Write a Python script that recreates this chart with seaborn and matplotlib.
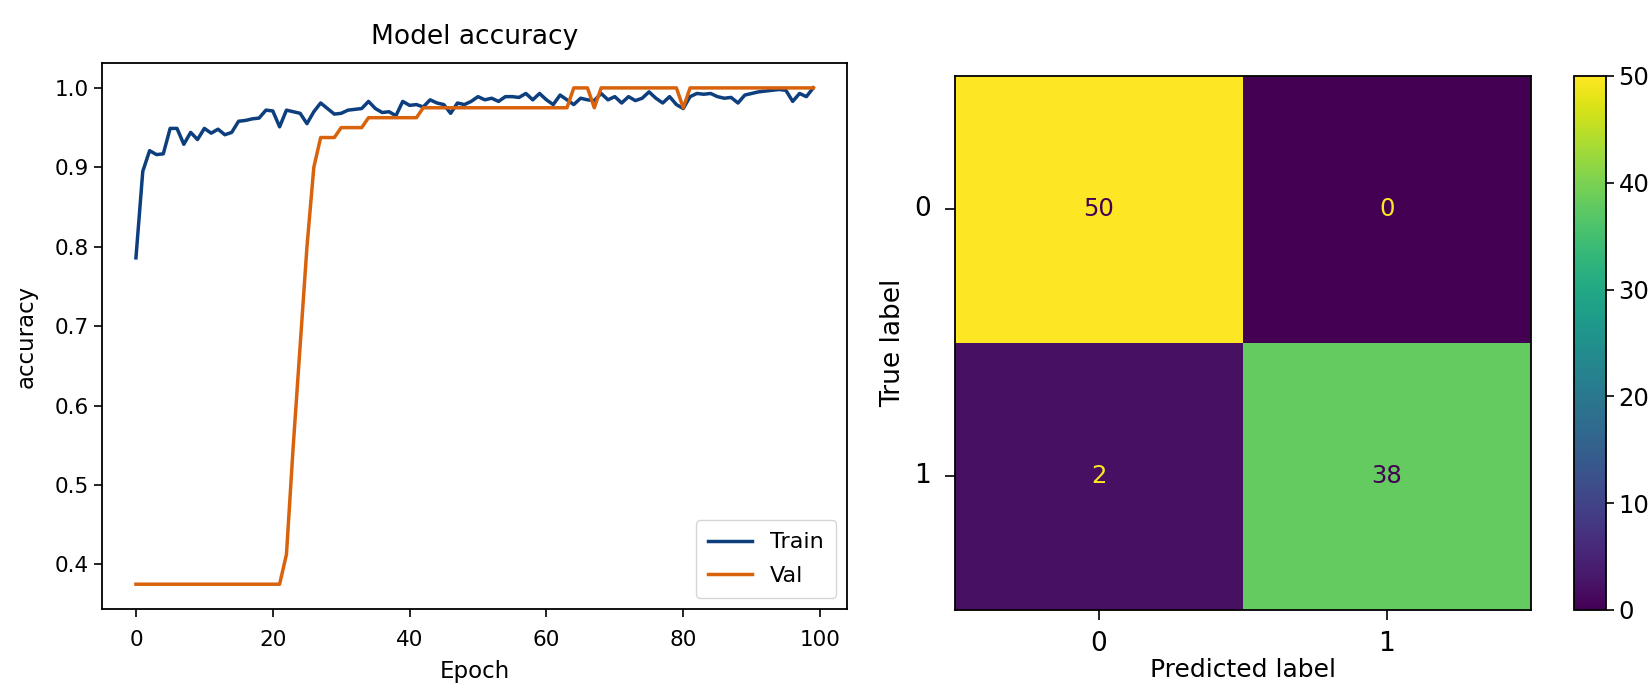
import numpy as np
import pandas as pd
import matplotlib
matplotlib.use("Agg")
import matplotlib.pyplot as plt
import seaborn as sns

# accuracy per epoch
train_acc = [0.786, 0.895, 0.921, 0.916, 0.917, 0.949, 0.949, 0.929, 0.944, 0.935,
             0.949, 0.943, 0.948, 0.941, 0.944, 0.958, 0.959, 0.961, 0.962, 0.972,
             0.971, 0.951, 0.972, 0.970, 0.968, 0.955, 0.970, 0.981, 0.974, 0.967,
             0.968, 0.972, 0.973, 0.974, 0.983, 0.974, 0.969, 0.970, 0.965, 0.983,
             0.978, 0.979, 0.976, 0.985, 0.981, 0.979, 0.968, 0.981, 0.979, 0.983,
             0.989, 0.985, 0.987, 0.983, 0.989, 0.989, 0.988, 0.993, 0.985, 0.993,
             0.985, 0.979, 0.991, 0.985, 0.979, 0.987, 0.985, 0.984, 0.993, 0.985,
             0.989, 0.981, 0.989, 0.984, 0.987, 0.995, 0.987, 0.981, 0.989, 0.979,
             0.974, 0.989, 0.993, 0.992, 0.993, 0.989, 0.987, 0.988, 0.981, 0.991,
             0.993, 0.995, 0.996, 0.997, 0.998, 0.997, 0.983, 0.993, 0.989, 1.000]
val_acc = ([0.375] * 22 + [0.4125, 0.55, 0.675, 0.80, 0.90]
           + [0.9375] * 3 + [0.95] * 4 + [0.9625] * 8 + [0.975] * 22
           + [1.0] * 3 + [0.975] + [1.0] * 12 + [0.975] + [1.0] * 19)
epochs = list(range(len(train_acc)))

# confusion matrix
cm = np.array([[50, 0],
               [2, 38]])
class_labels = ["0", "1"]

df = pd.DataFrame({"epoch": epochs, "Train": train_acc, "Val": val_acc})

fig = plt.figure(figsize=(16.49, 6.85), dpi=100)
ax1 = fig.add_axes([0.0619, 0.1109, 0.4518, 0.797])
ax2 = fig.add_axes([0.5791, 0.1095, 0.3493, 0.7796])
cax = fig.add_axes([0.9545, 0.1095, 0.0194, 0.7796])

# left: training curves
sns.lineplot(data=df, x="epoch", y="Train", ax=ax1, color="#0d3f7f", lw=2.5, label="Train")
sns.lineplot(data=df, x="epoch", y="Val", ax=ax1, color="#d9620c", lw=2.5, label="Val")
ax1.set_title("Model accuracy", fontsize=19, pad=14)
ax1.set_xlabel("Epoch", fontsize=16.5, labelpad=7)
ax1.set_ylabel("accuracy", fontsize=16.5, labelpad=12)
ax1.set_xticks([0, 20, 40, 60, 80, 100])
ax1.set_yticks([0.4, 0.5, 0.6, 0.7, 0.8, 0.9, 1.0])
ax1.tick_params(labelsize=15.5, length=6, width=1.2)
ax1.tick_params(axis="x", pad=9)
for s in ax1.spines.values():
    s.set_linewidth(1.3)
ax1.legend(loc="lower right", fontsize=16, handlelength=2.0, borderpad=0.55,
           labelspacing=0.6)

# right: confusion matrix
sns.heatmap(cm, ax=ax2, cbar_ax=cax, cmap="viridis", vmin=0, vmax=50,
            annot=True, fmt="d", annot_kws={"size": 17.5},
            xticklabels=class_labels, yticklabels=class_labels)
vir = plt.get_cmap("viridis")
for t, v in zip(ax2.texts, cm.flatten()):
    t.set_color(vir(0.0) if v > 25 else vir(1.0))
ax2.set_xlabel("Predicted label", fontsize=18, labelpad=1)
ax2.set_ylabel("True label", fontsize=19, labelpad=6)
ax2.tick_params(labelsize=19, length=7, width=1.2, pad=10)
ax2.tick_params(axis="x", pad=8)
ax2.set_yticklabels(class_labels, rotation=0)
for s in ax2.spines.values():
    s.set_visible(True)
    s.set_linewidth(1.3)
cb = ax2.collections[0].colorbar
cb.outline.set_linewidth(1.3)
cb.outline.set_edgecolor("black")
cax.tick_params(labelsize=17.5, length=6, width=1.2, pad=3)

fig.savefig("out.png", dpi=100)
